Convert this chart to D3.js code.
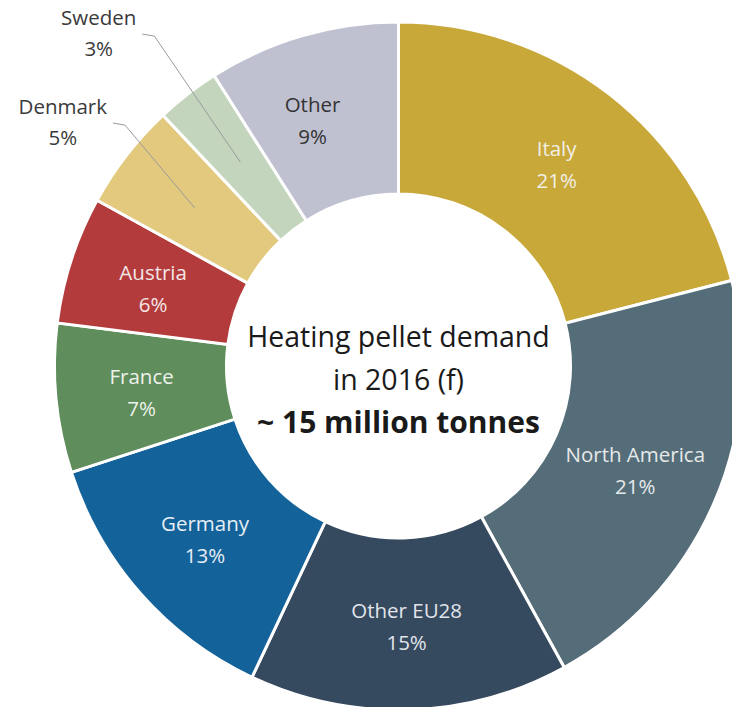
<!DOCTYPE html>
<html>
<head>
<meta charset="utf-8">
<script src="https://cdn.jsdelivr.net/npm/d3@7"></script>
<style>
  body { margin: 0; background: #fff; }
  text { font-family: "Open Sans", sans-serif; }
</style>
</head>
<body>
<div id="chart-area"></div>
<script>
// Data //
const countries = ["Italy", "North America", "Other EU28", "Germany", "France", "Austria", "Denmark", "Sweden", "Other"];
const shares = [21, 21, 15, 13, 7, 6, 5, 3, 9];
const centreLines = ["Heating pellet demand", "in 2016 (f)", "~ 15 million tonnes"];

// Palette and label styling
const palette = ["#c9a83a", "#556d79", "#35495f", "#14629a", "#5f8d5b", "#b33b3c", "#e2c97d", "#c3d5bd", "#bfc1d1"];
const labelInk = ["#f0efe6", "#e6e9ea", "#e2e5ea", "#e6eef4", "#eef2ec", "#f3e6e6", "#444", "#444", "#333"];

// Outside labels (angle in degrees from top, radius)
const outside = {
  "Denmark": {a: -54, r: 415},
  "Sweden": {a: -42, r: 448}
};

const W = 732, H = 707;
const cx = 398.5, cy = 366;
const rOuter = 344, rInner = 172;

var svg = d3.select("#chart-area")
  .append("svg")
  .attr("width", W)
  .attr("height", H);

var g = svg.append("g")
  .attr("transform", "translate(" + cx + "," + cy + ")");

var slices = countries.map((c, i) => ({name: c, share: shares[i]}));

var colour = d3.scaleOrdinal().domain(countries).range(palette);
var ink = d3.scaleOrdinal().domain(countries).range(labelInk);

var pie = d3.pie()
  .sort(null)
  .value(d => d.share);

var arc = d3.arc()
  .innerRadius(rInner)
  .outerRadius(rOuter);

var labelArc = d3.arc()
  .innerRadius(258)
  .outerRadius(258);

var arcs = pie(slices);

// Donut
g.selectAll("path.slice")
  .data(arcs)
  .enter()
  .append("path")
  .attr("class", "slice")
  .attr("d", arc)
  .attr("fill", d => colour(d.data.name))
  .attr("stroke", "#fff")
  .attr("stroke-width", 3);

// Inside labels
var inside = arcs.filter(d => !outside[d.data.name]);
var lab = g.selectAll("text.lab")
  .data(inside)
  .enter()
  .append("text")
  .attr("class", "lab")
  .attr("text-anchor", "middle")
  .attr("font-size", "20.5px")
  .attr("fill", d => ink(d.data.name))
  .attr("transform", d => {
    var c = labelArc.centroid(d);
    if (d.data.name == "Other") c[0] -= 14; // nudged left in the original
    return "translate(" + c + ")";
  });
lab.append("tspan").attr("x", 0).attr("y", -6).text(d => d.data.name);
lab.append("tspan").attr("x", 0).attr("y", 26).text(d => d.data.share + "%");

// Outside labels with leader lines
arcs.filter(d => outside[d.data.name]).forEach(d => {
  var o = outside[d.data.name];
  var a = o.a * Math.PI / 180;
  var lx = o.r * Math.sin(a), ly = -o.r * Math.cos(a);
  var t = g.append("text")
    .attr("text-anchor", "middle")
    .attr("font-size", "20.5px")
    .attr("fill", "#3a3a3a")
    .attr("transform", "translate(" + lx + "," + ly + ")");
  var first = t.append("tspan").attr("x", 0).attr("y", -8).text(d.data.name);
  t.append("tspan").attr("x", 0).attr("y", 23).text(d.data.share + "%");
  var half = first.node().getComputedTextLength() / 2;
  var p0 = [lx + half + 6, ly + 1];
  var p1 = [p0[0] + 12, p0[1] + 2];
  var p2 = labelArc.centroid(d);
  g.append("path")
    .attr("d", d3.line()([p0, p1, p2]))
    .attr("fill", "none")
    .attr("stroke", "#9a9a9a")
    .attr("stroke-width", 1);
});

// Centre text
var centre = g.append("text")
  .attr("text-anchor", "middle")
  .attr("fill", "#1a1a1a");
centre.selectAll("tspan")
  .data(centreLines)
  .enter()
  .append("tspan")
  .attr("x", 0)
  .attr("y", (d, i) => -19 + i * 43)
  .attr("font-size", (d, i) => i == 2 ? "30px" : "28.5px")
  .attr("font-weight", (d, i) => i == 2 ? "bold" : "normal")
  .text(d => d);
</script>
</body>
</html>
